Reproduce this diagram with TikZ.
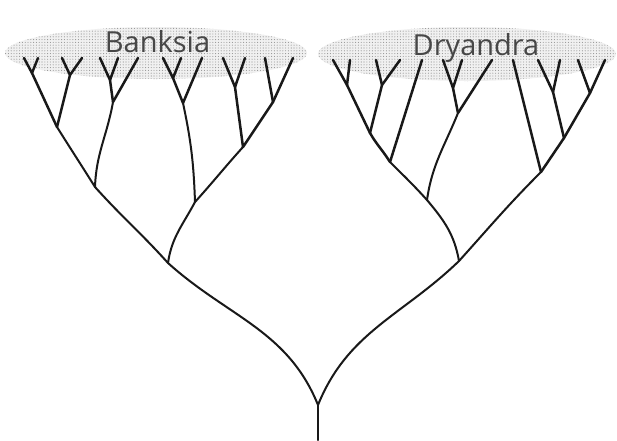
\documentclass[tikz,border=0pt]{standalone}
\usepackage{fontspec}
\setmainfont{Open Sans}
\usetikzlibrary{patterns.meta}
\tikzset{
  branch/.style={line width=2pt, draw=black!90, line cap=round, line join=round},
  twig/.style={branch, line width=2.5pt},
  band/.style={preaction={fill=black!6}, pattern={Dots[distance=2.8pt, radius=0.55pt]}, pattern color=black!42},
  label/.style={anchor=base, text=black!72, font=\fontsize{29}{30}\selectfont, inner sep=0pt}
}
\begin{document}
\begin{tikzpicture}[x=1pt,y=-1pt]
\useasboundingbox (0,0) rectangle (617,440);
% stippled bands
\path[band] (156,53) ellipse [x radius=151pt, y radius=26pt];
\path[band] (467,54) ellipse [x radius=149pt, y radius=27pt];
\node[label] (lbB) at (157.5,52) {Banksia};
\node[label] (lbD) at (476,55) {Dryandra};
% ---------- coordinates ----------
\coordinate (R0) at (318,440);
\coordinate (R) at (318,405);
% Banksia
\coordinate (B0) at (168,263);
\coordinate (B1) at (95,187);
\coordinate (B2) at (195,202);
\coordinate (B11) at (57,127);
\coordinate (B12) at (113,102);
\coordinate (B111) at (32,73);
\coordinate (B112) at (70,75);
\coordinate (B121) at (110,80);
\coordinate (B21) at (183,103);
\coordinate (B22) at (243,147);
\coordinate (B211) at (173,78);
\coordinate (B221) at (235,87);
\coordinate (B222) at (273,102);
\coordinate (b1) at (24,58);
\coordinate (b2) at (38,58);
\coordinate (b3) at (62,58);
\coordinate (b4) at (82,58);
\coordinate (b5) at (100,58);
\coordinate (b6) at (118,58);
\coordinate (b7) at (138,58);
\coordinate (b8) at (163,58);
\coordinate (b9) at (181,58);
\coordinate (b10) at (202,58);
\coordinate (b11) at (223,58);
\coordinate (b12) at (245,58);
\coordinate (b13) at (265,58);
\coordinate (b14) at (293,58);
% Dryandra
\coordinate (D0) at (459,261);
\coordinate (D1) at (427,200);
\coordinate (D2) at (541,172);
\coordinate (D11) at (390,162);
\coordinate (D12) at (458,113);
\coordinate (D111) at (370,133);
\coordinate (D1111) at (347,85);
\coordinate (D1112) at (382,85);
\coordinate (D121) at (453,88);
\coordinate (D22) at (564,138);
\coordinate (D221) at (553,92);
\coordinate (D222) at (590,93);
\coordinate (d1) at (333,60);
\coordinate (d2) at (350,60);
\coordinate (d3) at (376,60);
\coordinate (d4) at (400,60);
\coordinate (d5) at (422,60);
\coordinate (d6) at (443,60);
\coordinate (d7) at (462,60);
\coordinate (d8) at (492,60);
\coordinate (d9) at (513,60);
\coordinate (d10) at (538,60);
\coordinate (d11) at (560,60);
\coordinate (d12) at (578,60);
\coordinate (d13) at (605,60);
% ---------- branches ----------
\draw[branch] (R0) -- (R);
\draw[branch] (R) to[out=112,in=-42] (B0);
\draw[branch] (R) to[out=68,in=-136] (D0);
% Banksia
\draw[branch] (B0) to[out=132,in=-48] (B1);
\draw[branch] (B0) to[out=82,in=-118] (B2);
\draw[branch] (B1) to[out=122,in=-58] (B11);
\draw[branch] (B1) to[out=88,in=-100] (B12);
\draw[twig] (B11) -- (B111);
\draw[twig] (B11) -- (B112);
\draw[twig] (B12) -- (B121);
\draw[twig] (B12) -- (b7);
\draw[twig] (B111) -- (b1);
\draw[twig] (B111) -- (b2);
\draw[twig] (B112) -- (b3);
\draw[twig] (B112) -- (b4);
\draw[twig] (B121) -- (b5);
\draw[twig] (B121) -- (b6);
\draw[branch] (B2) to[out=92,in=-78] (B21);
\draw[branch] (B2) to[out=48,in=-132] (B22);
\draw[twig] (B21) -- (B211);
\draw[twig] (B21) -- (b10);
\draw[twig] (B211) -- (b8);
\draw[twig] (B211) -- (b9);
\draw[twig] (B22) -- (B221);
\draw[twig] (B22) -- (B222);
\draw[twig] (B221) -- (b11);
\draw[twig] (B221) -- (b12);
\draw[twig] (B222) -- (b13);
\draw[twig] (B222) -- (b14);
% Dryandra
\draw[branch] (D0) to[out=100,in=-50] (D1);
\draw[branch] (D0) to[out=48,in=-135] (D2);
\draw[branch] (D1) to[out=132,in=-45] (D11);
\draw[branch] (D1) to[out=82,in=-112] (D12);
\draw[twig] (D11) to[out=122,in=-60] (D111);
\draw[twig] (D11) -- (d5);
\draw[twig] (D111) -- (D1111);
\draw[twig] (D111) -- (D1112);
\draw[twig] (D1111) -- (d1);
\draw[twig] (D1111) -- (d2);
\draw[twig] (D1112) -- (d3);
\draw[twig] (D1112) -- (d4);
\draw[twig] (D12) -- (D121);
\draw[twig] (D12) -- (d8);
\draw[twig] (D121) -- (d6);
\draw[twig] (D121) -- (d7);
\draw[twig] (D2) -- (d9);
\draw[twig] (D2) -- (D22);
\draw[twig] (D22) -- (D221);
\draw[twig] (D22) -- (D222);
\draw[twig] (D221) -- (d10);
\draw[twig] (D221) -- (d11);
\draw[twig] (D222) -- (d12);
\draw[twig] (D222) -- (d13);
\end{tikzpicture}
\end{document}
